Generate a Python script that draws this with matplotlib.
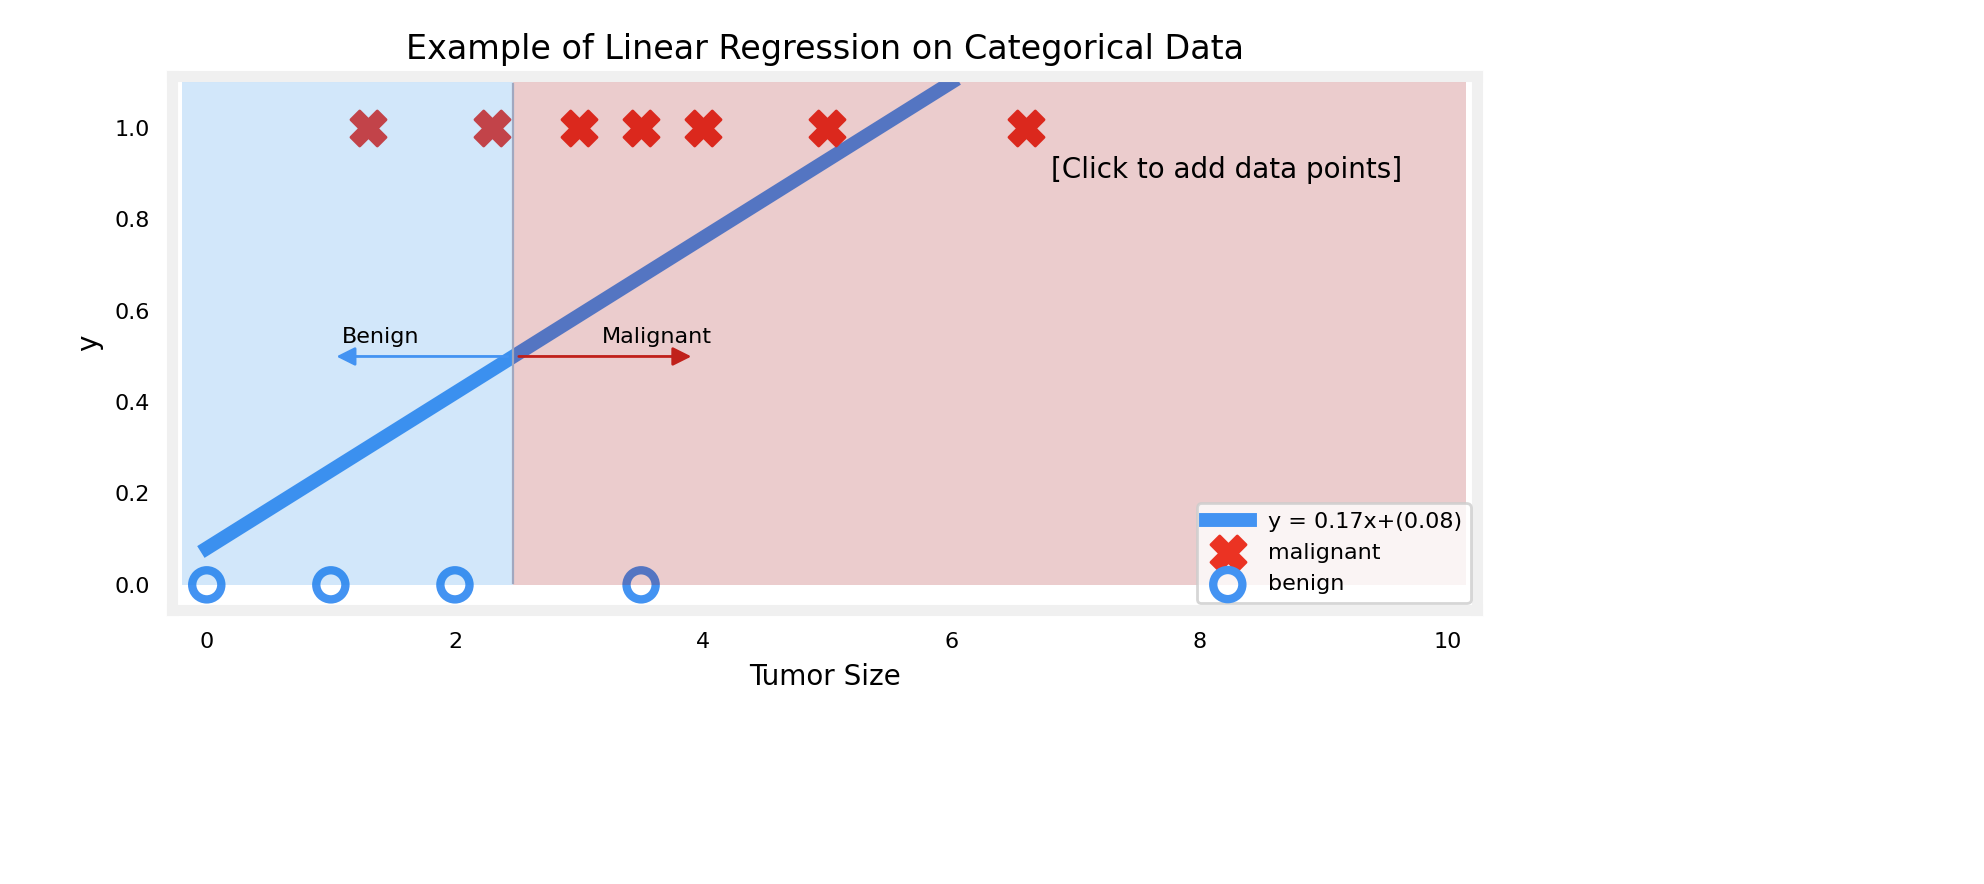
import numpy as np
import matplotlib.pyplot as plt

# data
x_malignant = [1.3, 2.3, 3.0, 3.5, 4.0, 5.0, 6.6]
y_malignant = [1, 1, 1, 1, 1, 1, 1]
x_benign = [0, 1, 2, 3.5]
y_benign = [0, 0, 0, 0]
w, b = 0.17, 0.08
x_line = [0, 6.0]
threshold = 2.47

blue = '#4393f2'
red = '#eb3323'

fig = plt.figure(figsize=(9.92, 4.42), dpi=200)
ax = fig.add_axes([0.0867, 0.31, 0.658, 0.604])

ax.plot(x_line, [w * v + b for v in x_line], color=blue, lw=5, label=f"y = {w}x+({b})", zorder=2)
ax.scatter(x_malignant, y_malignant, marker='X', s=160, c=red, label='malignant', zorder=3)
ax.scatter(x_benign, y_benign, marker='o', s=110, facecolors='none', edgecolors=blue,
           linewidths=3, label='benign', zorder=3)

# shaded regions over the points
ax.fill_between([-0.2, threshold], [0, 0], [1.1, 1.1], color='#1e87e6', alpha=0.2, lw=0, zorder=4)
ax.fill_between([threshold, 10.15], [0, 0], [1.1, 1.1], color='#9b0005', alpha=0.2, lw=0, zorder=4)
ax.axvline(threshold, ymin=0.05, ymax=0.985, color='#a0a8c0', lw=0.8, zorder=4)

ax.annotate('', xy=(1.0, 0.5), xytext=(threshold, 0.5),
            arrowprops=dict(arrowstyle='-|>', color=blue, lw=1, mutation_scale=14), zorder=5)
ax.annotate('', xy=(3.95, 0.5), xytext=(threshold, 0.5),
            arrowprops=dict(arrowstyle='-|>', color='#c0201a', lw=1, mutation_scale=14), zorder=5)
ax.text(1.4, 0.53, 'Benign', ha='center', fontsize=8, zorder=6)
ax.text(3.63, 0.53, 'Malignant', ha='center', fontsize=8, zorder=6)
ax.text(6.8, 0.89, '[Click to add data points]', fontsize=10, zorder=6)

ax.set_xlim(-0.28, 10.24)
ax.set_ylim(-0.055, 1.114)
ax.set_xticks([0, 2, 4, 6, 8, 10])
ax.set_yticks([0, 0.2, 0.4, 0.6, 0.8, 1.0])
ax.tick_params(length=0, labelsize=8, pad=8)
for s in ax.spines.values():
    s.set_color('#f0f0f0')
    s.set_linewidth(4)
ax.set_xlabel('Tumor Size', fontsize=10)
ax.set_ylabel('y', fontsize=10)
ax.set_title('Example of Linear Regression on Categorical Data', fontsize=12)
ax.legend(loc='lower right', fontsize=8, borderaxespad=0.3)

fig.savefig('out.png')
